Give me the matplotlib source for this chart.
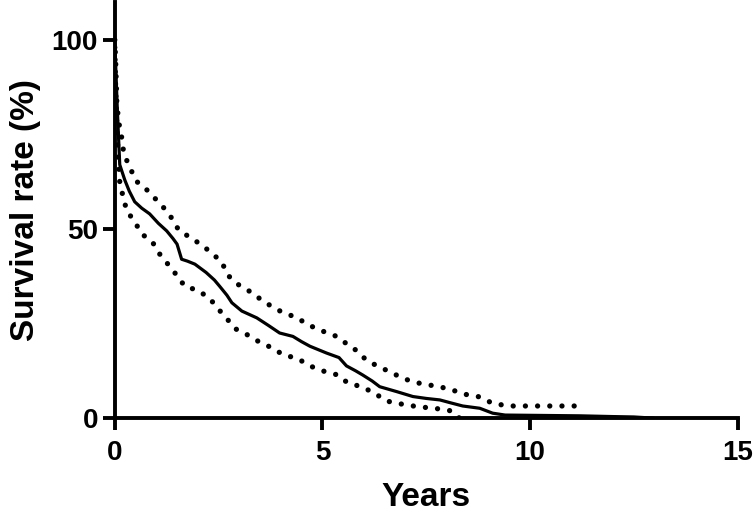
import numpy as np
import matplotlib
matplotlib.use("Agg")
import matplotlib.pyplot as plt

# Kaplan-Meier estimate
km_years = [0, 0.02, 0.04, 0.06, 0.08, 0.1, 0.12, 0.18, 0.24, 0.35, 0.48, 0.65,
            0.84, 1.05, 1.25, 1.4, 1.5, 1.61, 1.75, 1.93, 2.2, 2.4, 2.53, 2.7,
            2.82, 3.06, 3.42, 3.7, 3.97, 4.29, 4.5, 4.7, 5.1, 5.4, 5.58, 5.8,
            5.97, 6.2, 6.38, 6.79, 7.18, 7.5, 7.83, 8.1, 8.38, 8.79, 9.1, 9.4,
            11.2, 11.6, 12.0, 12.5, 12.95]
km_surv = [100, 94, 88, 82, 77, 72, 67, 65, 63, 60, 57.2, 55.5,
           54, 51.5, 49.5, 47.5, 46, 42, 41.5, 40.7, 38.5, 36.5, 34.8, 32.5,
           30.5, 28.3, 26.5, 24.5, 22.5, 21.6, 20.2, 19, 17.2, 16, 13.8, 12.5,
           11.4, 9.8, 8.3, 7, 5.7, 5.2, 4.8, 4, 3.2, 2.6, 1.3, 0.8,
           0.6, 0.5, 0.4, 0.3, 0]

# upper 95% confidence band
upper_years = [0, 0.02, 0.05, 0.1, 0.17, 0.22, 0.36, 0.5, 0.75, 0.96, 1.18, 1.37,
               1.54, 1.81, 2.09, 2.34, 2.58, 2.72, 2.96, 3.25, 3.49, 3.78, 4.05,
               4.38, 4.65, 4.98, 5.3, 5.58, 5.83, 6.07, 6.36, 6.67, 6.96, 7.3,
               7.7, 8.07, 8.38, 8.79, 9.08, 9.46, 11.3]
upper_surv = [100, 95, 83, 78, 74, 69.7, 66.5, 62.8, 60.6, 58.2, 55.6, 52.9,
              49.7, 47.8, 45.8, 43.6, 41.2, 37.8, 35.4, 33.5, 31.6, 29.5, 27.9,
              26.6, 24.7, 23.1, 21.8, 19.7, 17.8, 15.2, 13.6, 12, 10.4, 9.3,
              8.5, 7.7, 6.4, 5.6, 4, 3.2, 3.2]

# lower 95% confidence band
lower_years = [0, 0.02, 0.04, 0.07, 0.1, 0.12, 0.2, 0.29, 0.48, 0.65, 0.91, 1.08,
               1.28, 1.49, 1.69, 2.0, 2.29, 2.48, 2.7, 2.89, 3.18, 3.47, 3.78,
               4.05, 4.41, 4.7, 5.0, 5.37, 5.61, 5.97, 6.28, 6.55, 6.91, 7.3,
               7.7, 8.11, 8.3]
lower_surv = [98, 88, 80, 72, 66, 62.5, 58.5, 54.8, 51.9, 48.7, 46.5, 43.4,
              40.7, 37.8, 34.8, 33.8, 31.6, 29, 26.3, 23.7, 22.1, 20.2, 18.6,
              16.8, 15.7, 13.8, 12.5, 11.4, 9.3, 8.2, 6.4, 4.5, 3.7, 3.0,
              2.6, 1.9, 0]

x_ticks = [0, 5, 10, 15]
y_ticks = [0, 50, 100]

plt.rcParams["font.family"] = ["Liberation Sans", "DejaVu Sans"]
plt.rcParams["font.weight"] = "bold"

fig = plt.figure(figsize=(7.55, 5.13), dpi=100)
ax = fig.add_axes([0.152, 0.185, 0.825, 0.811])

ax.plot(km_years, km_surv, color="black", lw=2.3, solid_joinstyle="round")
dots = (0, (0.01, 2.3))
ax.plot(upper_years, upper_surv, color="black", lw=3.8, linestyle=dots,
        dash_capstyle="round")
ax.plot(lower_years, lower_surv, color="black", lw=3.8, linestyle=dots,
        dash_capstyle="round")

ax.set_xlim(0, 15)
ax.set_ylim(0, 110)
ax.set_xticks(x_ticks)
ax.set_yticks(y_ticks)

for side in ["top", "right"]:
    ax.spines[side].set_visible(False)
for side in ["left", "bottom"]:
    ax.spines[side].set_linewidth(2.8)
ax.tick_params(width=2.8, length=8.5, labelsize=20)
ax.tick_params(axis="x", pad=7)
ax.tick_params(axis="y", pad=3.5)
for lab in ax.get_xticklabels() + ax.get_yticklabels():
    lab.set_fontweight("bold")

ax.set_xlabel("Years", fontsize=24, fontweight="bold", labelpad=12)
ax.set_ylabel("Survival rate (%)", fontsize=24, fontweight="bold", labelpad=8)

fig.savefig("out.png", dpi=100)
